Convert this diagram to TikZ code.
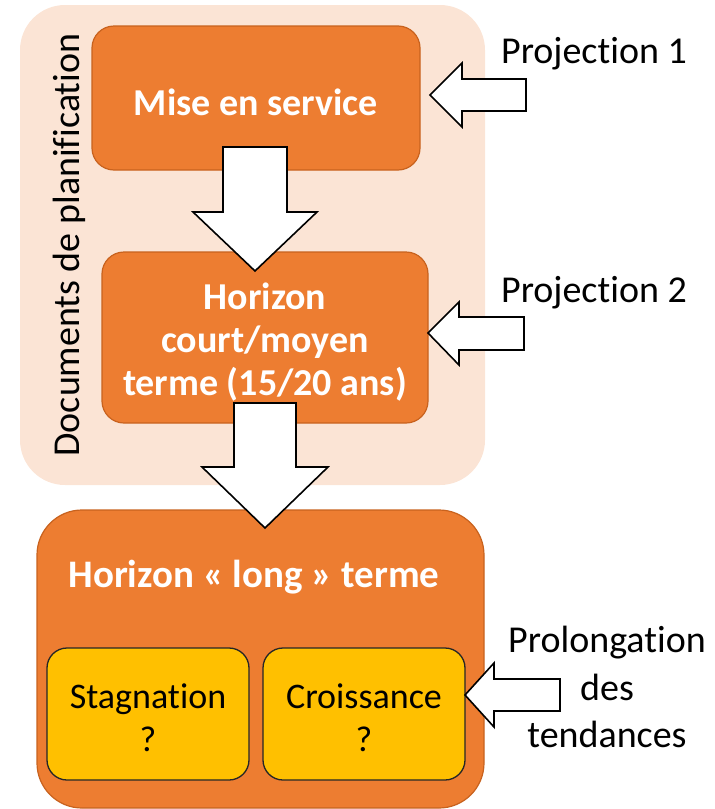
\documentclass[tikz,border=0pt]{standalone}
\usepackage{fontspec}
\setmainfont{Carlito}[Ligatures=NoCommon]
\definecolor{orangeC}{HTML}{ED7D31}
\definecolor{orangeD}{HTML}{C8621E}
\definecolor{bgC}{HTML}{FBE4D5}
\definecolor{yellowC}{HTML}{FFC000}
\begin{document}
\begin{tikzpicture}[x=1pt,y=-1pt,
  bigfont/.style={font=\fontsize{38}{43}\selectfont},
  orangebox/.style={rounded corners=22pt, fill=orangeC, draw=orangeD, line width=1.2pt, inner sep=0pt},
  yellowbox/.style={rounded corners=20pt, fill=yellowC, draw=black!85, line width=1.3pt, inner sep=0pt,
     minimum width=202pt, minimum height=132pt},
  whitetxt/.style={text=white, font=\bfseries\fontsize{38}{43}\selectfont, align=center, inner sep=0pt},
  darktxt/.style={text=black, font=\fontsize{36}{43}\selectfont, align=center, inner sep=0pt},
  blockarrow/.style={fill=white, draw=black, line width=1.6pt, line join=miter}
]
\useasboundingbox (0,0) rectangle (715,809);

% light background group
\node[fill=bgC, rounded corners=45pt, minimum width=465pt, minimum height=480pt, inner sep=0pt] (bg) at (252.5,245) {};
\node[rotate=90, anchor=base, inner sep=0pt, font=\fontsize{38}{43}\selectfont] (doclabel) at (79,245) {Documents de planification};

% Mise en service
\node[orangebox, minimum width=328pt, minimum height=144pt] (mise) at (256,98) {};
\node[whitetxt, anchor=base] (misetxt) at (256,115) {Mise en service};

% Horizon court/moyen terme
\node[orangebox, minimum width=326pt, minimum height=171pt] (court) at (265,337.5) {};
\node[whitetxt] (courttxt) at (265,342) {Horizon\\court/moyen\\terme (15/20 ans)};

% arrow 1 (down)
\draw[blockarrow] (223,147) -- (287,147) -- (287,212) -- (317,212) -- (255,271) -- (193,212) -- (223,212) -- cycle;

% long term box
\node[orangebox, rounded corners=45pt, minimum width=447pt, minimum height=298pt] (long) at (260.5,659) {};
\node[whitetxt, anchor=base, font=\bfseries\fontsize{39}{43}\selectfont] (longtxt) at (254,587) {Horizon « long » terme};

% arrow 2 (down)
\draw[blockarrow] (234,403) -- (296,403) -- (296,467) -- (328,467) -- (265,528) -- (202,467) -- (234,467) -- cycle;

% sub boxes
\node[yellowbox] (stag) at (148,714) {};
\node[darktxt] (stagtxt) at (148,718) {Stagnation\\?};
\node[yellowbox] (crois) at (364,714) {};
\node[darktxt] (croistxt) at (364,718) {Croissance\\?};

% left arrows
\draw[blockarrow] (430,95) -- (462,63) -- (462,79) -- (526,79) -- (526,111) -- (462,111) -- (462,127) -- cycle;
\draw[blockarrow] (428,333) -- (459,302) -- (459,317) -- (524,317) -- (524,350) -- (459,350) -- (459,365) -- cycle;
\draw[blockarrow] (465,695) -- (494,663) -- (494,679) -- (560,679) -- (560,711) -- (494,711) -- (494,727) -- cycle;

% labels
\node[anchor=base, inner sep=0pt, bigfont] (p1) at (594,63) {Projection 1};
\node[anchor=base, inner sep=0pt, bigfont] (p2) at (594,302) {Projection 2};
\node[inner sep=0pt, align=center, font=\fontsize{38}{47.5}\selectfont] (prol) at (607,687) {Prolongation\\des\\tendances};
\end{tikzpicture}
\end{document}
